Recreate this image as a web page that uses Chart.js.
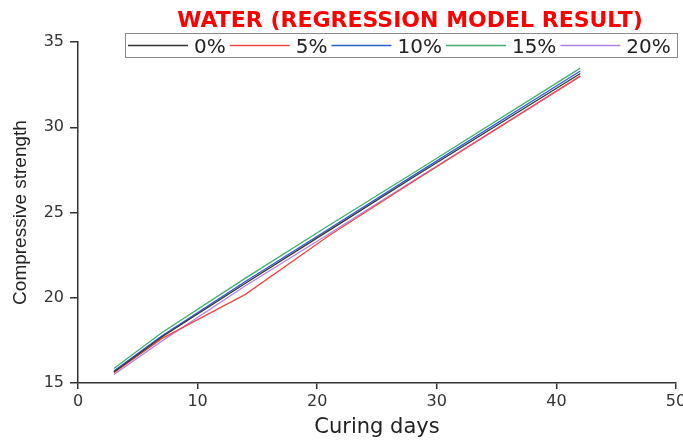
<!DOCTYPE html>
<html>
<head>
<meta charset="utf-8">
<script src="https://cdn.jsdelivr.net/npm/chart.js@4.4.0/dist/chart.umd.min.js"></script>
<style>
  html, body { margin: 0; padding: 0; overflow: hidden; background: #fff; }
</style>
</head>
<body>
<canvas id="chart" width="700" height="441"></canvas>
<script>
  const chartTitle = "WATER (REGRESSION MODEL RESULT)";
  const curingDays = [3, 7, 14, 21, 28, 42];
  const seriesLabels = ["0%", "5%", "10%", "15%", "20%"];
  const seriesColors = ["#333333", "#f04848", "#2b5fd0", "#3fae72", "#b27fe2"];

  const strength0 = [15.65, 17.7, 20.85, 23.95, 27.05, 33.15];
  const strength5 = [15.6, 17.6, 20.2, 23.65, 26.8, 33.0];
  const strength10 = [15.7, 17.75, 20.95, 24.05, 27.15, 33.3];
  const strength15 = [15.85, 17.95, 21.15, 24.25, 27.3, 33.47];
  const strength20 = [15.5, 17.45, 20.7, 23.75, 26.85, 33.0];

  const xTicks = [0, 10, 20, 30, 40, 50];
  const yTicks = [15, 20, 25, 30, 35];

  const allSeries = [strength0, strength5, strength10, strength15, strength20];

  const datasets = allSeries.map((values, i) => ({
    label: seriesLabels[i],
    data: curingDays.map((d, j) => ({ x: d, y: values[j] })),
    borderColor: seriesColors[i],
    backgroundColor: seriesColors[i],
    borderWidth: 1.3,
    pointRadius: 0,
    tension: 0,
    fill: false
  }));

  // title and boxed legend drawn on top, the legend sits over the plot's top edge
  const headerPlugin = {
    id: "header",
    afterDraw(chart) {
      const ctx = chart.ctx;
      ctx.save();
      ctx.fillStyle = "#ff0000";
      ctx.font = 'bold 22px "DejaVu Sans"';
      ctx.textAlign = "center";
      ctx.textBaseline = "alphabetic";
      ctx.fillText(chartTitle, 410, 27);

      ctx.strokeStyle = "#8a8a8a";
      ctx.lineWidth = 1;
      ctx.strokeRect(125.5, 33.5, 552, 24);

      ctx.font = '20px "DejaVu Sans"';
      ctx.textAlign = "left";
      let x = 128;
      chart.data.datasets.forEach(ds => {
        ctx.strokeStyle = ds.borderColor;
        ctx.lineWidth = 1.5;
        ctx.beginPath();
        ctx.moveTo(x, 45.5);
        ctx.lineTo(x + 60, 45.5);
        ctx.stroke();
        x += 66;
        ctx.fillStyle = "#222";
        ctx.fillText(ds.label, x, 53);
        x += ctx.measureText(ds.label).width + 4;
      });
      ctx.restore();
    }
  };

  new Chart(document.getElementById("chart").getContext("2d"), {
    type: "line",
    data: { datasets },
    plugins: [headerPlugin],
    options: {
      responsive: false,
      animation: false,
      layout: { padding: { top: 42, right: 24, left: 0, bottom: 0 } },
      plugins: {
        legend: { display: false },
        title: { display: false },
        tooltip: { enabled: false }
      },
      scales: {
        x: {
          type: "linear",
          min: 0,
          max: 50,
          afterFit(scale) { scale.height = 58; },
          afterBuildTicks(scale) { scale.ticks = xTicks.map(v => ({ value: v })); },
          grid: { drawOnChartArea: false, drawTicks: true, tickLength: 6, color: "#333", lineWidth: 1.5 },
          border: { display: true, color: "#333", width: 1.5 },
          ticks: { color: "#333", font: { family: "DejaVu Sans", size: 16 }, padding: 3 },
          title: {
            display: true,
            text: "Curing days",
            color: "#222",
            font: { family: "DejaVu Sans", size: 21 },
            padding: { top: 0, bottom: 1 }
          }
        },
        y: {
          min: 15,
          max: 35,
          afterFit(scale) { scale.width = 78; },
          afterBuildTicks(scale) { scale.ticks = yTicks.map(v => ({ value: v })); },
          grid: { drawOnChartArea: false, drawTicks: true, tickLength: 8, color: "#333", lineWidth: 1.5 },
          border: { display: true, color: "#333", width: 1.5 },
          ticks: { color: "#333", font: { family: "DejaVu Sans", size: 16 }, padding: 6 },
          title: {
            display: true,
            text: "Compressive strength",
            color: "#222",
            font: { family: "Liberation Sans", size: 19 },
            padding: { top: 9, bottom: 0 }
          }
        }
      }
    }
  });
</script>
</body>
</html>
